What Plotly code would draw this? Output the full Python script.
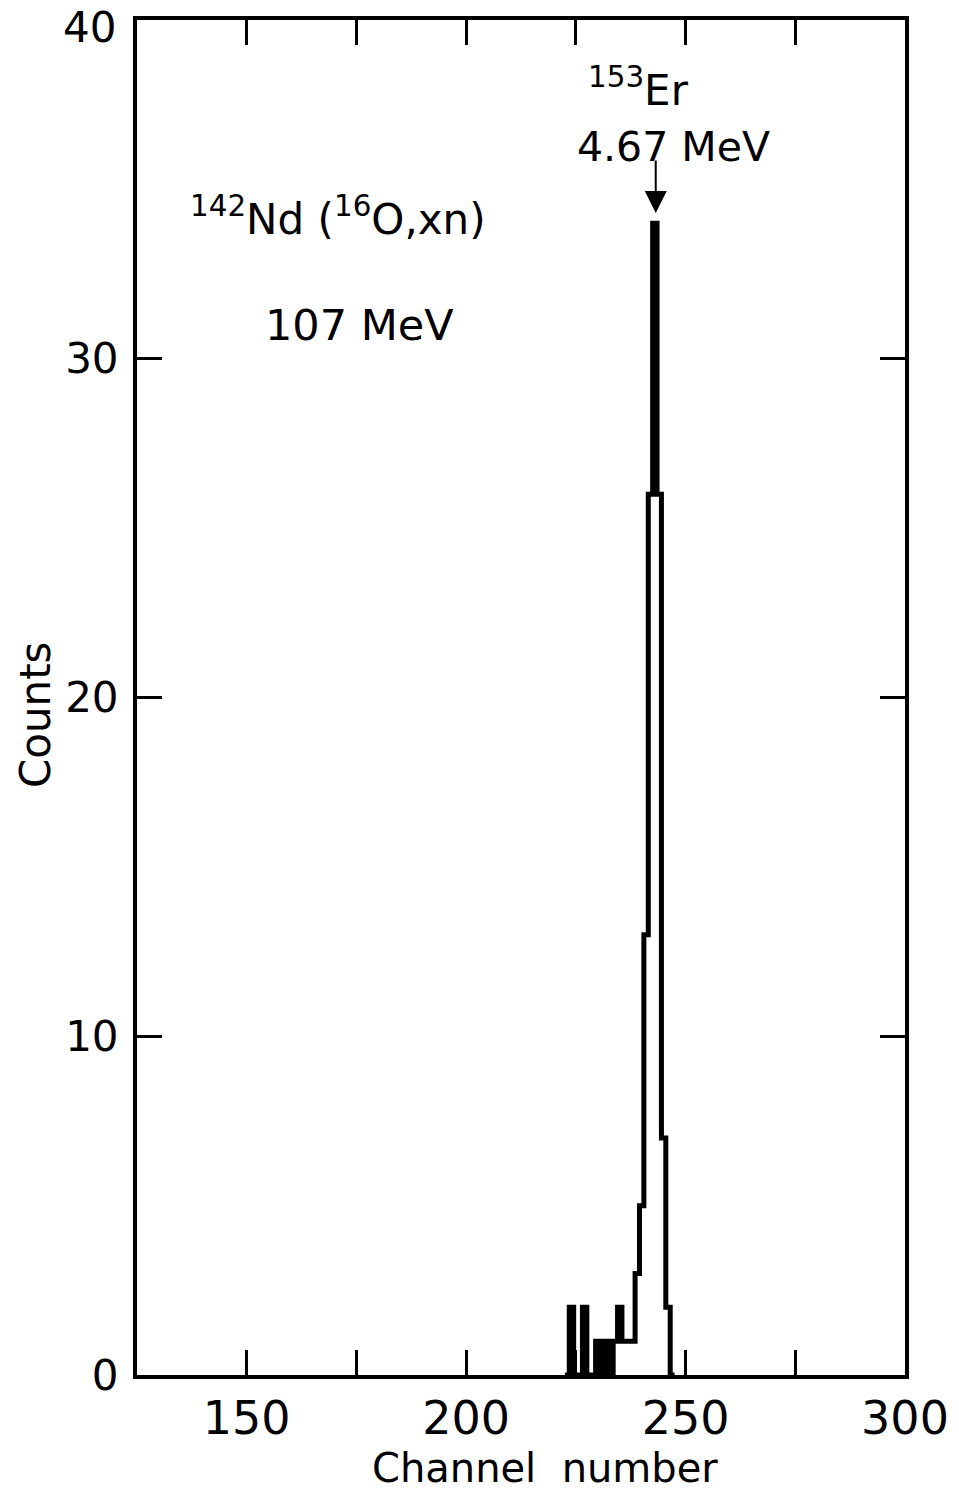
import plotly.graph_objects as go

# ---- data ----
channels = [223, 224, 225, 226, 227, 228, 229, 230, 231, 232, 233, 234, 235,
            236, 237, 238, 239, 240, 241, 242, 243, 244, 245, 246, 247]
counts = [0, 2, 0, 0, 2, 0, 0, 1, 0, 1, 0, 1, 2,
          1, 1, 1, 3, 5, 13, 26, 34, 26, 7, 2, 0]

x_tick_vals = [150, 175, 200, 225, 250, 275, 300]
x_tick_text = ["150", "", "200", "", "250", "", "300"]
y_tick_vals = [0, 10, 20, 30, 40]
y_tick_text = ["0", "10", "20", "30", ""]
y_top_label = "40"

peak_channel = 243
peak_count = 34

FONT = "DejaVu Sans"

# histogram edges (bins centred on channel numbers)
edges = [c - 0.5 for c in channels] + [channels[-1] + 0.5]
ys = counts + [counts[-1]]

fig = go.Figure()
fig.add_trace(go.Scatter(
    x=edges, y=ys, mode="lines", line_shape="hv",
    line=dict(color="black", width=5), hoverinfo="skip", showlegend=False))

ann = []
ann.append(dict(x=136.6, y=34.2, xref="x", yref="y", xanchor="left", yanchor="middle",
                text="<sup>142</sup>Nd (<sup>16</sup>O,xn)", showarrow=False,
                font=dict(family=FONT, size=42, color="black")))
ann.append(dict(x=153.6, y=31.0, xref="x", yref="y", xanchor="left", yanchor="middle",
                text="107 MeV", showarrow=False,
                font=dict(family=FONT, size=43, color="black")))
ann.append(dict(x=227.4, y=38.0, xref="x", yref="y", xanchor="left", yanchor="middle",
                text="<sup>153</sup>Er", showarrow=False,
                font=dict(family=FONT, size=42, color="black")))
ann.append(dict(x=224.7, y=36.25, xref="x", yref="y", xanchor="left", yanchor="middle",
                text="4.67 MeV", showarrow=False,
                font=dict(family=FONT, size=41, color="black")))
# arrow pointing at the peak
ann.append(dict(x=peak_channel + 0.2, y=peak_count + 0.3, xref="x", yref="y", text="",
                showarrow=True, ax=0, ay=-54, arrowhead=2, arrowsize=2.2,
                arrowwidth=2, arrowcolor="black"))
# top y tick label, kept inside the page
ann.append(dict(x=-0.025, y=y_tick_vals[-1], xref="paper", yref="y",
                xanchor="right", yanchor="top", yshift=19,
                text=y_top_label, showarrow=False,
                font=dict(family=FONT, size=42, color="black")))
# axis titles
ann.append(dict(x=0.531, y=-0.0686, xref="paper", yref="paper",
                xanchor="center", yanchor="middle",
                text="Channel\u00a0\u00a0number", showarrow=False,
                font=dict(family=FONT, size=40, color="black")))
ann.append(dict(x=-0.1328, y=0.487, xref="paper", yref="paper",
                xanchor="center", yanchor="middle", textangle=-90,
                text="Counts", showarrow=False,
                font=dict(family=FONT, size=42, color="black")))

fig.update_layout(
    width=959, height=1495,
    margin=dict(l=137, r=54, t=20, b=120, autoexpand=False),
    paper_bgcolor="white", plot_bgcolor="white",
    annotations=ann, showlegend=False,
    xaxis=dict(range=[125, 300], tickmode="array", tickvals=x_tick_vals,
               ticktext=x_tick_text, ticks="inside", ticklen=25, tickwidth=2.5,
               tickcolor="black", showline=True, linewidth=4, linecolor="black",
               mirror="allticks", showgrid=False, zeroline=False,
               tickfont=dict(family=FONT, size=46, color="black"),
               ticklabelstandoff=0, ticklabeloverflow="allow", automargin=False),
    yaxis=dict(range=[0, 40], tickmode="array", tickvals=y_tick_vals,
               ticktext=y_tick_text, ticks="inside", ticklen=25, tickwidth=2.5,
               tickcolor="black", showline=True, linewidth=4, linecolor="black",
               mirror="allticks", showgrid=False, zeroline=False,
               tickfont=dict(family=FONT, size=42, color="black"),
               ticklabelstandoff=6, ticklabeloverflow="allow", automargin=False),
)

fig.write_html("out.html")
